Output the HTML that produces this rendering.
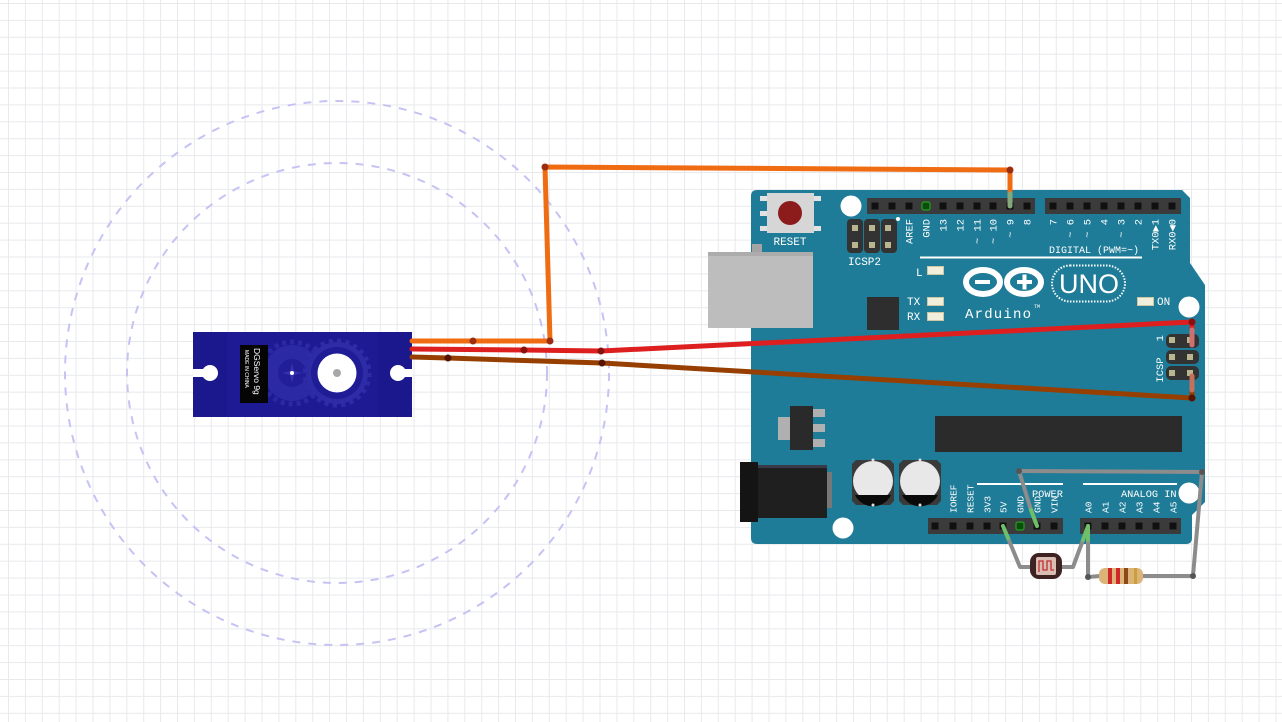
<!DOCTYPE html>
<html><head><meta charset="utf-8"><style>
html,body{margin:0;padding:0;background:#fff;}
svg{display:block;}
.m{font-family:"Liberation Mono","DejaVu Sans Mono",monospace;fill:#fff;}
</style></head><body>
<svg width="1282" height="722" viewBox="0 0 1282 722" xmlns="http://www.w3.org/2000/svg">
<defs>
<pattern id="g" x="8" y="3" width="16.9" height="16.9" patternUnits="userSpaceOnUse">
<path d="M0 0.5 H16.9 M0.5 0 V16.9" stroke="#e7e9ec" stroke-width="1" fill="none"/>
</pattern>
</defs>
<rect width="1282" height="722" fill="#fff"/>
<rect width="1282" height="722" fill="url(#g)"/>

<!-- dashed circles -->
<circle cx="337" cy="373" r="272" fill="none" stroke="#c6c3f4" stroke-width="2" stroke-dasharray="8 8"/>
<circle cx="337" cy="373" r="210" fill="none" stroke="#c6c3f4" stroke-width="2" stroke-dasharray="8 8"/>

<!-- SERVO -->
<rect x="193" y="332" width="219" height="85" fill="#1b188e"/>
<rect x="227" y="332" width="151" height="85" fill="#1d1a93"/>
<circle cx="210" cy="373" r="8" fill="#fff"/>
<rect x="193" y="369" width="17" height="8" fill="#fff"/>
<circle cx="398" cy="373" r="8" fill="#fff"/>
<rect x="398" y="369" width="14" height="8" fill="#fff"/>
<!-- small gear -->
<circle cx="292" cy="373" r="28" fill="#2c29a4"/>
<circle cx="292" cy="373" r="31" fill="none" stroke="#2c29a4" stroke-width="5" stroke-dasharray="4 4"/>
<circle cx="292" cy="373" r="14" fill="#211e98"/>
<path d="M292 363 L294 371 L302 373 L294 375 L292 383 L290 375 L282 373 L290 371 Z" fill="#3532b0"/>
<circle cx="292" cy="373" r="2" fill="#fff"/>
<!-- big gear -->
<circle cx="337" cy="373" r="31" fill="#2e2ba7"/>
<circle cx="337" cy="373" r="32.5" fill="none" stroke="#2e2ba7" stroke-width="4" stroke-dasharray="4.2 4.3"/>
<circle cx="337" cy="373" r="26" fill="#1f1c95"/>
<circle cx="337" cy="373" r="19.5" fill="#fff"/>
<circle cx="337" cy="373" r="4" fill="#a8a8a8"/>
<!-- label -->
<rect x="240" y="345" width="28" height="58" fill="#050505"/>
<text x="254" y="348" transform="rotate(90 254 348)" font-family="Liberation Sans, sans-serif" font-size="8.5" fill="#fff">DGServo 9g</text>
<text x="245" y="350" transform="rotate(90 245 350)" font-family="Liberation Sans, sans-serif" font-size="5" fill="#fff">MADE IN CHINA</text>

<!-- USB -->
<rect x="752" y="244" width="10" height="91" fill="#a4a4a4"/>
<rect x="708" y="252" width="105" height="76" fill="#bdbdbd"/>
<rect x="708" y="252" width="105" height="4" fill="#acacac"/>

<!-- BOARD -->
<path d="M757,190 L1182,190 L1190,198 L1190,263 L1205,285 L1205,502 L1192,515 L1192,538 Q1192,544 1186,544 L757,544 Q751,544 751,538 L751,196 Q751,190 757,190 Z" fill="#1f7c98"/>
<rect x="751" y="252" width="62" height="76" fill="#bdbdbd"/>
<rect x="751" y="252" width="62" height="4" fill="#acacac"/>
<rect x="752" y="244" width="10" height="8" fill="#a4a4a4"/>

<!-- holes -->
<circle cx="851" cy="206" r="10.5" fill="#fff"/>
<circle cx="1189" cy="307" r="10.5" fill="#fff"/>
<circle cx="1189" cy="493" r="10.5" fill="#fff"/>
<circle cx="843" cy="528" r="10.5" fill="#fff"/>

<!-- reset button -->
<g fill="#e2e2e2">
<rect x="760" y="196" width="8" height="5"/><rect x="760" y="211" width="8" height="5"/><rect x="760" y="226" width="8" height="5"/>
<rect x="813" y="196" width="8" height="5"/><rect x="813" y="226" width="8" height="5"/>
</g>
<rect x="767" y="193" width="47" height="40" fill="#d6d6d6"/>
<circle cx="790" cy="213" r="12" fill="#8c1c1c"/>
<text x="790" y="245" text-anchor="middle" class="m" font-size="11">RESET</text>

<!-- ICSP2 -->
<rect x="847" y="219" width="16" height="34" rx="4" fill="#333"/>
<rect x="864" y="219" width="16" height="34" rx="4" fill="#333"/>
<rect x="881" y="219" width="16" height="34" rx="4" fill="#333"/>
<g fill="#b9b58e">
<rect x="852" y="225" width="6" height="6"/><rect x="869" y="225" width="6" height="6"/><rect x="885" y="225" width="6" height="6"/>
<rect x="852" y="242" width="6" height="6"/><rect x="869" y="242" width="6" height="6"/><rect x="885" y="242" width="6" height="6"/>
</g>
<circle cx="898" cy="219" r="2" fill="#fff"/>
<text x="848" y="265" class="m" font-size="11">ICSP2</text>

<!-- chip small -->
<rect x="867" y="297" width="32" height="33" fill="#2e2e2e"/>

<!-- LEDs -->
<g fill="#f1eedc" stroke="#cfc7a4" stroke-width="1">
<rect x="927.5" y="266.5" width="16" height="8"/>
<rect x="927.5" y="297.5" width="16" height="8"/>
<rect x="927.5" y="312.5" width="16" height="8"/>
<rect x="1137.5" y="297.5" width="16" height="8"/>
</g>
<text x="916" y="276" class="m" font-size="11">L</text>
<text x="907" y="305" class="m" font-size="11">TX</text>
<text x="907" y="320" class="m" font-size="11">RX</text>
<text x="1157" y="305" class="m" font-size="11">ON</text>

<!-- headers top -->
<rect x="867" y="198" width="168" height="16" fill="#3b3b3b"/>
<rect x="1045" y="198" width="136" height="16" fill="#3b3b3b"/>
<g fill="#101010">
<rect x="871.5" y="202.5" width="7" height="7"/><rect x="888.5" y="202.5" width="7" height="7"/><rect x="905.5" y="202.5" width="7" height="7"/>
<rect x="939.5" y="202.5" width="7" height="7"/><rect x="956.5" y="202.5" width="7" height="7"/><rect x="973.5" y="202.5" width="7" height="7"/>
<rect x="989.5" y="202.5" width="7" height="7"/><rect x="1006.5" y="202.5" width="7" height="7"/><rect x="1023.5" y="202.5" width="7" height="7"/>
<rect x="1049.5" y="202.5" width="7" height="7"/><rect x="1066.5" y="202.5" width="7" height="7"/><rect x="1083.5" y="202.5" width="7" height="7"/>
<rect x="1100.5" y="202.5" width="7" height="7"/><rect x="1117.5" y="202.5" width="7" height="7"/><rect x="1134.5" y="202.5" width="7" height="7"/>
<rect x="1151.5" y="202.5" width="7" height="7"/><rect x="1168.5" y="202.5" width="7" height="7"/>
</g>
<rect x="922" y="202" width="8" height="8" rx="2" fill="#0c4d0c" stroke="#22a022" stroke-width="1.2"/>

<!-- top labels -->
<g class="m" font-size="10.4" text-anchor="end">
<text x="912.5" y="219" transform="rotate(-90 912.5 219)">AREF</text>
<text x="929.5" y="219" transform="rotate(-90 929.5 219)">GND</text>
<text x="946.5" y="219" transform="rotate(-90 946.5 219)">13</text>
<text x="963.5" y="219" transform="rotate(-90 963.5 219)">12</text>
<text x="980.5" y="219" transform="rotate(-90 980.5 219)">~ 11</text>
<text x="996.5" y="219" transform="rotate(-90 996.5 219)">~ 10</text>
<text x="1013.5" y="219" transform="rotate(-90 1013.5 219)">~ 9</text>
<text x="1030.5" y="219" transform="rotate(-90 1030.5 219)">8</text>
<text x="1056.5" y="219" transform="rotate(-90 1056.5 219)">7</text>
<text x="1073.5" y="219" transform="rotate(-90 1073.5 219)">~ 6</text>
<text x="1090.5" y="219" transform="rotate(-90 1090.5 219)">~ 5</text>
<text x="1107.5" y="219" transform="rotate(-90 1107.5 219)">4</text>
<text x="1124.5" y="219" transform="rotate(-90 1124.5 219)">~ 3</text>
<text x="1141.5" y="219" transform="rotate(-90 1141.5 219)">2</text>
<text x="1158.5" y="219" transform="rotate(-90 1158.5 219)">TX0▶1</text>
<text x="1175.5" y="219" transform="rotate(-90 1175.5 219)">RX0◀0</text>
</g>
<text x="1049" y="253" class="m" font-size="10">DIGITAL (PWM=~)</text>
<rect x="920" y="256.5" width="222" height="2" fill="#fff"/>

<!-- logo -->
<ellipse cx="983" cy="282" rx="17" ry="12" fill="none" stroke="#fff" stroke-width="6"/>
<ellipse cx="1024" cy="282" rx="17" ry="12" fill="none" stroke="#fff" stroke-width="6"/>
<rect x="975" y="280" width="15" height="4" fill="#fff"/>
<rect x="1017" y="280" width="15" height="4" fill="#fff"/>
<rect x="1022.5" y="274.5" width="4" height="15" fill="#fff"/>
<text x="965" y="318" class="m" font-size="14" letter-spacing="1.2">Arduino</text>
<text x="1034" y="308" class="m" font-size="5">TM</text>
<rect x="1052" y="265.5" width="73" height="36" rx="18" fill="none" stroke="#fff" stroke-width="2" stroke-dasharray="1.5 1.5"/>
<text x="1089" y="293" text-anchor="middle" font-family="Liberation Sans, sans-serif" font-size="27" fill="#fff">UNO</text>

<!-- ICSP right -->
<rect x="1166" y="334" width="33" height="14" rx="5" fill="#333"/>
<rect x="1166" y="350" width="33" height="14" rx="5" fill="#333"/>
<rect x="1166" y="366" width="33" height="14" rx="5" fill="#333"/>
<g fill="#b9b58e">
<rect x="1169" y="337" width="6" height="6"/><rect x="1187" y="337" width="6" height="6"/>
<rect x="1169" y="354" width="6" height="6"/><rect x="1187" y="354" width="6" height="6"/>
<rect x="1169" y="370" width="6" height="6"/><rect x="1187" y="370" width="6" height="6"/>
</g>
<text x="1163" y="335" transform="rotate(-90 1163 335)" class="m" font-size="10.5" text-anchor="end">1</text>
<text x="1163" y="370" transform="rotate(-90 1163 370)" class="m" font-size="10.5" text-anchor="middle">ICSP</text>

<!-- regulator -->
<rect x="778" y="417" width="12" height="23" fill="#b0b0b0"/>
<rect x="813" y="409" width="12" height="8" fill="#b0b0b0"/>
<rect x="813" y="424" width="12" height="8" fill="#b0b0b0"/>
<rect x="813" y="439" width="12" height="8" fill="#b0b0b0"/>
<rect x="790" y="406" width="23" height="44" fill="#2a2a2a"/>

<!-- long chip -->
<rect x="935" y="416" width="247" height="36" fill="#2b2b2b"/>

<!-- power jack -->
<rect x="827" y="472" width="5" height="36" fill="#777"/>
<rect x="757" y="465" width="70" height="53" fill="#1f1f1f"/>
<rect x="757" y="465" width="70" height="3" fill="#3a3a48"/>
<rect x="740" y="462" width="18" height="60" fill="#141414"/>

<!-- capacitors -->
<path d="M856,460 H890 L894,464 V501 L890,505 H856 L852,501 V464 Z" fill="#3a3a3a"/>
<path d="M903,460 H937 L941,464 V501 L937,505 H903 L899,501 V464 Z" fill="#3a3a3a"/>
<circle cx="873" cy="481" r="20" fill="#e8e8e8"/>
<circle cx="920" cy="481" r="20" fill="#e8e8e8"/>
<path d="M855,495 H891 A20 20 0 0 1 855 495 Z" fill="#0a0a0a"/>
<path d="M902,495 H938 A20 20 0 0 1 902 495 Z" fill="#0a0a0a"/>
<circle cx="873" cy="460" r="1.5" fill="#ddd"/><circle cx="873" cy="505" r="1.5" fill="#ddd"/>
<circle cx="920" cy="460" r="1.5" fill="#ddd"/><circle cx="920" cy="505" r="1.5" fill="#ddd"/>

<!-- bottom headers -->
<rect x="928" y="518" width="135" height="16" fill="#3b3b3b"/>
<rect x="1080" y="518" width="101" height="16" fill="#3b3b3b"/>
<g fill="#101010">
<rect x="931.5" y="522.5" width="7" height="7"/><rect x="949.5" y="522.5" width="7" height="7"/><rect x="966.5" y="522.5" width="7" height="7"/>
<rect x="983.5" y="522.5" width="7" height="7"/><rect x="999.5" y="522.5" width="7" height="7"/><rect x="1033.5" y="522.5" width="7" height="7"/>
<rect x="1050.5" y="522.5" width="7" height="7"/>
<rect x="1084.5" y="522.5" width="7" height="7"/><rect x="1101.5" y="522.5" width="7" height="7"/><rect x="1118.5" y="522.5" width="7" height="7"/>
<rect x="1135.5" y="522.5" width="7" height="7"/><rect x="1152.5" y="522.5" width="7" height="7"/><rect x="1169.5" y="522.5" width="7" height="7"/>
</g>
<rect x="1016" y="522" width="8" height="8" rx="2" fill="#0c4d0c" stroke="#22a022" stroke-width="1.2"/>

<g class="m" font-size="9.5">
<text x="956.5" y="513" transform="rotate(-90 956.5 513)">IOREF</text>
<text x="973.5" y="513" transform="rotate(-90 973.5 513)">RESET</text>
<text x="990.5" y="513" transform="rotate(-90 990.5 513)">3V3</text>
<text x="1006.5" y="513" transform="rotate(-90 1006.5 513)">5V</text>
<text x="1023.5" y="513" transform="rotate(-90 1023.5 513)">GND</text>
<text x="1040.5" y="513" transform="rotate(-90 1040.5 513)">GND</text>
<text x="1057.5" y="513" transform="rotate(-90 1057.5 513)">VIN</text>
<text x="1091.5" y="513" transform="rotate(-90 1091.5 513)">A0</text>
<text x="1108.5" y="513" transform="rotate(-90 1108.5 513)">A1</text>
<text x="1125.5" y="513" transform="rotate(-90 1125.5 513)">A2</text>
<text x="1142.5" y="513" transform="rotate(-90 1142.5 513)">A3</text>
<text x="1159.5" y="513" transform="rotate(-90 1159.5 513)">A4</text>
<text x="1176.5" y="513" transform="rotate(-90 1176.5 513)">A5</text>
</g>
<rect x="977" y="483" width="86" height="2" fill="#fff"/>
<rect x="1083" y="483" width="94" height="2" fill="#fff"/>
<text x="1032" y="497" class="m" font-size="10.3">POWER</text>
<text x="1121" y="497" class="m" font-size="10.3">ANALOG IN</text>

<!-- servo wires -->
<g fill="none" stroke-linecap="round" stroke-linejoin="round" stroke-width="5">
<polyline points="412,341 550,341 545,167 1010,170 1010,194" stroke="#f06c12"/>
<line x1="1010" y1="194" x2="1010" y2="206" stroke="#84a87c"/>
<polyline points="412,349 524,350 601,351 1192,322 1192,330" stroke="#dd1f1f"/>
<line x1="1192" y1="330" x2="1192" y2="345" stroke="#cf7070"/>
<polyline points="412,357 448,358 602,363 1192,398 1192,390" stroke="#963f00"/>
<line x1="1192" y1="390" x2="1192" y2="376" stroke="#c4705a"/>
</g>
<g fill="#9c2d10">
<circle cx="473" cy="341" r="3.5"/><circle cx="550" cy="341" r="3.5"/><circle cx="545" cy="167" r="3.5"/><circle cx="1010" cy="170" r="3.5"/>
</g>
<g fill="#8a1010">
<circle cx="524" cy="350" r="3.5"/><circle cx="601" cy="351" r="3.5"/><circle cx="1192" cy="322" r="3.5"/>
</g>
<g fill="#561400">
<circle cx="448" cy="358" r="3.5"/><circle cx="602" cy="363" r="3.5"/><circle cx="1192" cy="398" r="3.5"/>
</g>

<!-- gray wires -->
<g fill="none" stroke="#8c8c8c" stroke-width="4" stroke-linecap="round" stroke-linejoin="round">
<polyline points="1019,471 1202,472 1193,576 1142,576"/>
<polyline points="1019,471 1031,510"/>
<polyline points="1008,538 1020,567 1031,567"/>
<polyline points="1061,567 1073,567 1083,540"/>
<polyline points="1088,540 1088,577 1100,576"/>
</g>
<g fill="none" stroke="#6fbf6a" stroke-width="4" stroke-linecap="round">
<line x1="1031" y1="510" x2="1037" y2="526"/>
<line x1="1003" y1="526" x2="1008" y2="538"/>
<line x1="1088" y1="526" x2="1083" y2="540"/>
<line x1="1088" y1="526" x2="1088" y2="540"/>
</g>
<g fill="#555">
<circle cx="1019" cy="471" r="3"/><circle cx="1202" cy="472" r="3"/><circle cx="1193" cy="576" r="3"/><circle cx="1088" cy="577" r="3"/>
</g>

<!-- photoresistor -->
<rect x="1030" y="553" width="32" height="26" rx="9" fill="#3e2222"/>
<rect x="1036" y="557" width="20" height="18" rx="2" fill="#d9bdb5"/>
<path d="M1039,572 V561 H1043 V570 H1047 V561 H1051 V570 H1054" fill="none" stroke="#c03030" stroke-width="1.3"/>

<!-- resistor -->
<rect x="1099" y="568" width="44" height="16" rx="6" fill="#dcb477"/>
<rect x="1108" y="568" width="4" height="16" fill="#d02828"/>
<rect x="1116" y="568" width="4" height="16" fill="#d02828"/>
<rect x="1124" y="568" width="4" height="16" fill="#8a4a1a"/>
<rect x="1134" y="568" width="3" height="16" fill="#c8a040"/>
</svg>
</body></html>
